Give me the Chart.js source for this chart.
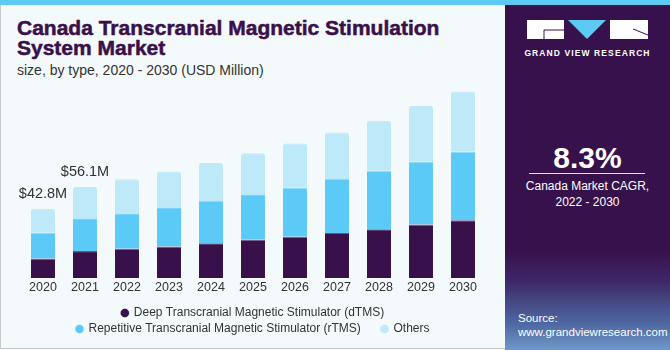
<!DOCTYPE html>
<html>
<head>
<meta charset="utf-8">
<script src="https://cdn.jsdelivr.net/npm/chart.js@4"></script>
<style>
    html, body { margin: 0; padding: 0; }
    body {
        width: 670px; height: 350px; position: relative; overflow: hidden;
        background: #f4f9fc;
        font-family: "Liberation Sans", Arial, sans-serif;
    }
    #frame {
        position: absolute; left: 0; top: 0; width: 669px; height: 348px;
        border-left: 1px solid #c9c9c9; border-bottom: 1px solid #c9c9c9;
    }
    #topbar { position: absolute; left: 0; top: 0; width: 670px; height: 5px; background: #5ccaf2; }
    #title {
        position: absolute; left: 17px; top: 18px; white-space: nowrap;
        font-size: 21px; line-height: 20px; font-weight: bold; color: #3a1049;
        -webkit-text-stroke: 0.5px #3a1049;
    }
    #subtitle {
        position: absolute; left: 17px; top: 62px; white-space: nowrap;
        font-size: 14px; line-height: 16px; color: #333;
    }
    #chart { position: absolute; left: 0; top: 80px; }
    #panel {
        position: absolute; left: 505px; top: 5px; width: 165px; height: 345px;
        background: linear-gradient(to bottom, #37114b 0px, #37114b 245px, #3d2766 275px, #4f6aa2 320px, #6f98c8 345px);
        color: #fff; text-align: center;
    }
    #logo { position: absolute; left: 22px; top: 15px; }
    #brand {
        position: absolute; left: 0; width: 165px; top: 43px;
        font-size: 8.5px; font-weight: bold; letter-spacing: 1.1px; line-height: 10px;
    }
    #cagr {
        position: absolute; left: 0; width: 165px; top: 136px;
        font-size: 30px; font-weight: bold; line-height: 34px;
    }
    #rule { position: absolute; left: 24px; width: 116px; top: 168px; height: 1px; background: #e6e0ea; }
    #cagrText {
        position: absolute; left: 0; width: 165px; top: 173px;
        font-size: 12px; line-height: 16px;
    }
    #source {
        position: absolute; left: 13px; top: 306px; text-align: left;
        font-size: 11.5px; line-height: 14px;
    }
</style>
</head>
<body>
<div id="frame"></div>
<div id="topbar"></div>
<div id="title">Canada Transcranial Magnetic Stimulation<br>System Market</div>
<div id="subtitle">size, by type, 2020 - 2030 (USD Million)</div>
<canvas id="chart" width="505" height="269"></canvas>
<div id="panel">
    <svg id="logo" width="122" height="20" viewBox="0 0 122 20">
        <rect x="0" y="0" width="37" height="19" fill="#fff"/>
        <polyline points="17,19 17,10 37,10" fill="none" stroke="#37114b" stroke-width="1"/>
        <polygon points="41,0 79,0 60,19" fill="#5ccaf2"/>
        <rect x="83" y="0" width="38" height="19" fill="#fff"/>
        <polyline points="106,9 121,15" fill="none" stroke="#37114b" stroke-width="1"/>
    </svg>
    <div id="brand">GRAND VIEW RESEARCH</div>
    <div id="cagr">8.3%</div>
    <div id="rule"></div>
    <div id="cagrText">Canada Market CAGR,<br>2022 - 2030</div>
    <div id="source">Source:<br>www.grandviewresearch.com</div>
</div>

<script>
const years = ['2020', '2021', '2022', '2023', '2024', '2025', '2026', '2027', '2028', '2029', '2030'];
const dtms = [12.0, 16.6, 18.0, 19.5, 21.5, 23.6, 25.4, 27.7, 30.1, 33.0, 35.7];
const rtms = [16.1, 20.3, 22.0, 24.2, 26.0, 28.1, 30.5, 33.4, 36.1, 38.9, 42.4];
const others = [14.7, 19.2, 20.9, 22.0, 23.4, 25.2, 27.1, 28.7, 30.9, 34.3, 36.9];
const totalLabels = ['$42.8M', '$56.1M'];

const seriesNames = [
    'Deep Transcranial Magnetic Stimulator (dTMS)',
    'Repetitive Transcranial Magnetic Stimulator (rTMS)',
    'Others'
];
const colors = ['#38104a', '#5ccaf6', '#bde9f9'];
const edgeColors = ['#6b5585', '#8fdcf9', '#bde9f9'];

// draw "$xx.xM" above the first bars
const totalLabelPlugin = {
    id: 'totalLabels',
    afterDatasetsDraw(chart) {
        const { ctx, scales: { x, y } } = chart;
        ctx.save();
        ctx.font = '14.5px "Liberation Sans", Arial, sans-serif';
        ctx.fillStyle = '#333';
        ctx.textAlign = 'center';
        ctx.textBaseline = 'middle';
        totalLabels.forEach((label, i) => {
            const total = dtms[i] + rtms[i] + others[i];
            ctx.fillText(label, x.getPixelForValue(i), y.getPixelForValue(total) - 15);
        });
        ctx.restore();
    }
};

function makeDataset(i, values) {
    return {
        label: seriesNames[i],
        data: values,
        backgroundColor: colors[i],
        borderColor: edgeColors[i],
        borderWidth: { top: 1, left: 0, right: 0, bottom: 0 },
        borderSkipped: false,
        borderRadius: i === 2 ? { topLeft: 2, topRight: 2 } : 0,
        barPercentage: 0.571,
        categoryPercentage: 1
    };
}

const ctx = document.getElementById('chart').getContext('2d');
new Chart(ctx, {
    type: 'bar',
    data: {
        labels: years,
        datasets: [makeDataset(0, dtms), makeDataset(1, rtms), makeDataset(2, others)]
    },
    options: {
        responsive: false,
        animation: false,
        layout: { padding: { left: 22, right: 21, top: 10, bottom: 4 } },
        plugins: {
            legend: {
                position: 'bottom',
                labels: {
                    usePointStyle: true,
                    pointStyle: 'circle',
                    boxWidth: 6,
                    boxHeight: 6,
                    padding: 4,
                    color: '#333',
                    font: { family: '"Liberation Sans", Arial, sans-serif', size: 12 },
                    generateLabels(chart) {
                        const items = Chart.defaults.plugins.legend.labels.generateLabels(chart);
                        // wider gap after the rTMS item, like the original
                        items[1].text += '     ';
                        return items;
                    }
                }
            },
            tooltip: { enabled: false }
        },
        scales: {
            x: {
                stacked: true,
                grid: { display: false, drawTicks: false },
                border: { display: false },
                ticks: {
                    color: '#333',
                    padding: 2,
                    font: { family: '"Liberation Sans", Arial, sans-serif', size: 12.5 }
                },
                // leave some room between year labels and legend
                afterFit(axis) { axis.height += 6; }
            },
            y: { stacked: true, display: false, min: 0, max: 116 }
        }
    },
    plugins: [totalLabelPlugin]
});
</script>
</body>
</html>
